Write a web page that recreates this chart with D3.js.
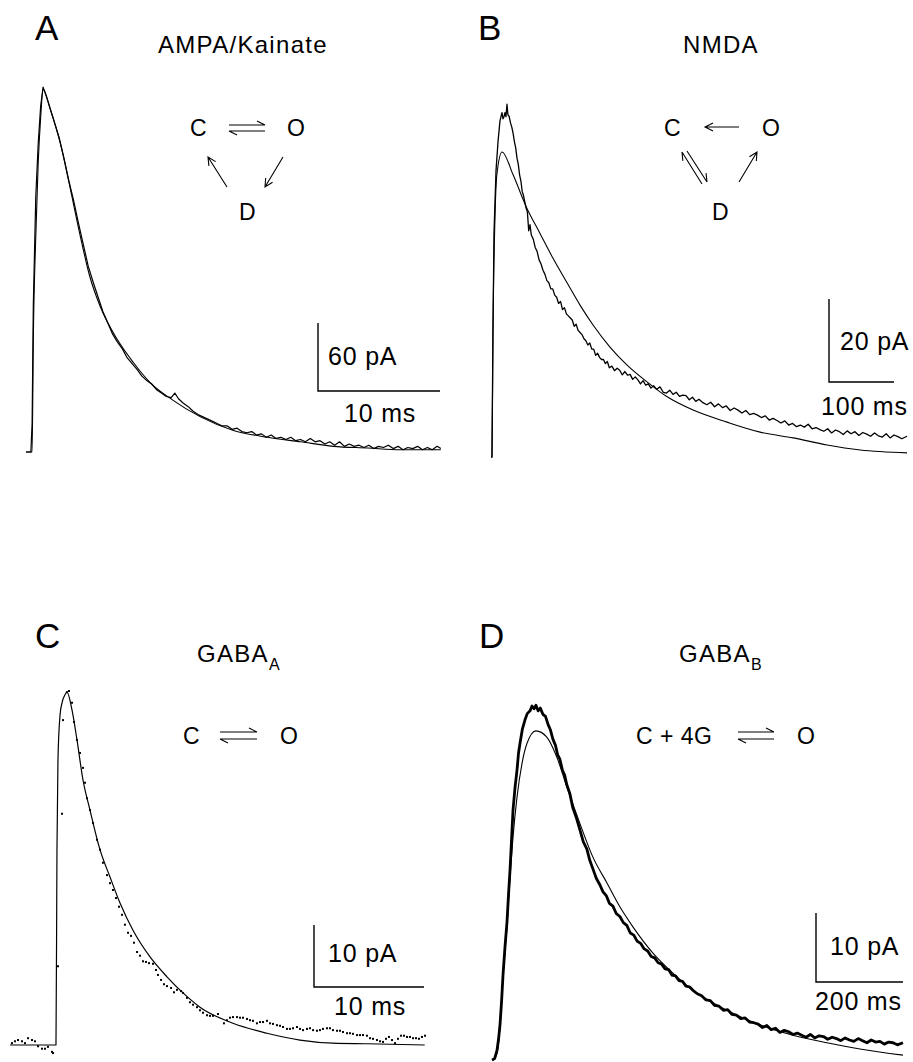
<!DOCTYPE html>
<html>
<head>
<meta charset="utf-8">
<script src="https://cdn.jsdelivr.net/npm/d3@7"></script>
<style>
  body { margin: 0; background: #fff; }
  text { font-family: "Liberation Sans", Arial, sans-serif; fill: #000; }
</style>
</head>
<body>
<svg id="fig"></svg>
<script>
// ---- data (time in ms, current in pA) ----

// A: AMPA/Kainate
var ampaFitT = [0, 0.5, 0.6, 0.8, 1.0, 1.2, 1.4, 2.0, 2.8, 3.6, 4.4, 5.2, 6.1, 7.5, 8.8, 10.2, 12, 14.3, 17, 19.8, 22.5, 25.2, 28, 30.7, 34];
var ampaFitI = [0, 0, 100, 190, 255, 295, 320, 302, 273, 234, 193, 156, 128, 99, 79, 61, 46, 31, 19, 13, 9, 5, 3.5, 2, 2];
var ampaDataT = [0, 0.4, 0.5, 0.6, 0.8, 1.0, 1.2, 1.4, 1.6, 1.9, 2.3, 2.7, 3.1, 3.5, 3.9, 4.3, 4.7, 5.1, 5.5, 5.9, 6.3, 6.7, 7.1, 7.5, 7.9, 8.3, 8.7, 9.1, 9.5, 9.9, 10.3, 10.7, 11.1, 11.5, 11.9, 12.2, 12.5, 12.9, 13.3, 13.7, 14.1, 14.5, 14.9, 15.3, 15.7, 16.1, 16.5, 16.9, 17.3, 17.7, 18.1, 18.5, 18.9, 19.3, 19.7, 20.1, 20.5, 20.9, 21.3, 21.7, 22.1, 22.5, 22.9, 23.3, 23.7, 24.1, 24.5, 24.9, 25.3, 25.7, 26.1, 26.5, 26.9, 27.3, 27.7, 28.1, 28.5, 28.9, 29.3, 29.7, 30.1, 30.5, 30.9, 31.3, 31.7, 32.1, 32.5, 32.9, 33.3, 33.7, 34];
var ampaDataI = [0, 0, 25, 130, 225, 272, 305, 322, 316, 306, 292, 278, 260, 240, 222, 202, 183, 164, 150, 137, 124, 114, 104, 97, 91, 83, 78, 73, 67, 63, 60, 55, 52, 49, 48, 52, 47, 43, 40, 36, 33, 31, 29, 27, 25, 23, 23, 20, 21, 18, 17, 18, 15, 16, 13, 15, 12, 13, 11, 13, 10, 11, 9, 12, 9, 10, 7, 9, 6, 9, 5, 7, 5, 6, 4, 6, 3, 5, 4, 6, 3, 5, 2, 4, 3, 5, 2, 4, 2, 5, 3];

// B: NMDA
var nmdaFitT = [0, 1.5, 3, 6, 9, 17, 34, 55, 75, 95, 117, 137, 157, 183, 209, 240, 271, 311, 363, 414, 465, 517, 568, 640];
var nmdaFitI = [0, 0, 30, 57, 68, 73.5, 68, 60, 54, 48, 42, 36.6, 31.8, 26.5, 22.2, 18.1, 14.5, 11.3, 8.4, 6.0, 4.6, 2.9, 1.7, 1.0];
var nmdaDataT = [0, 1.5, 3, 4.6, 7.7, 10.8, 13.8, 16.9, 18.5, 20, 21.5, 23, 24.6, 26, 28, 30, 32, 34, 36, 38, 40, 42, 44, 46, 48, 50, 52, 54, 56, 58, 60, 62, 65, 68, 71, 74, 77, 80, 83, 86, 89, 92, 95, 98, 101, 104, 107, 110, 113, 116, 119, 122, 125, 128, 131, 134, 137, 140, 143, 146, 149, 152, 155, 158, 161, 164, 167, 170, 173, 176, 179, 182, 186, 190, 194, 198, 202, 206, 210, 214, 218, 222, 226, 230, 234, 238, 242, 246, 250, 255, 260, 265, 270, 275, 280, 285, 290, 295, 300, 305, 310, 315, 320, 326, 332, 338, 344, 350, 356, 362, 368, 374, 380, 386, 392, 398, 404, 410, 416, 422, 428, 434, 440, 446, 452, 458, 464, 470, 476, 482, 488, 494, 500, 506, 512, 518, 524, 530, 536, 542, 548, 554, 560, 566, 572, 578, 584, 590, 596, 602, 608, 614, 620, 626, 632, 640];
var nmdaDataI = [0, 0, 30, 54, 69, 76, 81, 83, 81.5, 82, 83, 82, 85, 82.5, 82, 80.5, 79.5, 78, 76, 74.5, 72, 70.5, 68, 66.5, 64, 63, 61.5, 60, 59, 54.5, 56, 53.5, 52.5, 50.5, 49.5, 47.5, 46.5, 45, 44, 42.5, 42, 40.5, 40.5, 39, 38.5, 37, 37.5, 35.5, 36, 34.5, 34, 33.5, 33, 31.5, 32, 30.5, 30, 29.5, 28.5, 28, 27, 27.5, 26, 26, 24.5, 25, 24, 23.5, 23.5, 22.5, 23,
  21.5, 21.9, 20.8, 21.4, 20.9, 19.8, 20.6, 19.7, 19.9, 18.7, 19.3, 18.6, 17.6, 18.4, 17.3, 17.6, 16.6, 17.2,
  16.3, 16.9, 15.6, 15.4, 16.1, 15.1, 15.6, 14.6, 14.9, 14.8, 13.8, 14.4, 13.4, 13.9,
  13.1, 12.6, 13.2, 12.1, 12.8, 11.9, 12.3, 11.2, 11.8, 11.3, 10.6, 11.2, 10.2, 10.5, 10.1, 9.5, 9.9, 8.9, 9.3, 8.8,
  8.2, 8.7, 7.7, 8.1, 7.3, 7.7, 7.2, 7.9, 6.8, 7.1, 6.6, 6.2, 6.8, 5.8, 6.5, 6.1, 5.4, 6.3, 5.6, 6.1,
  5.2, 5.9, 5.5, 5.0, 5.8, 5.1, 4.8, 5.6, 4.6, 5.3, 4.9, 4.4, 5.0];

// C: GABA_A
var gabaAFitT = [0, 4.09, 4.18, 4.27, 4.36, 4.55, 4.73, 5.0, 5.18, 5.64, 6.09, 6.64, 7.27, 8.18, 9.09, 10.0, 11.18, 12.73, 14.27, 15.73, 17.27, 20.27, 23.36, 26.36, 29.36, 32.45, 37.7];
var gabaAFitI = [0, 0, 0, 31.5, 46, 53.2, 55.2, 56.5, 56.9, 54, 49.2, 42.7, 37.9, 31.5, 27.1, 22.9, 18.5, 14.2, 11, 8.4, 6.1, 3.5, 1.9, 0.8, 0.3, 0.2, 0];
var gabaADotT = [0.18, 0.45, 0.73, 1.09, 1.36, 1.64, 2, 2.27, 2.55, 2.91, 3.18, 3.45, 3.82, 3.91, 4.36, 4.73, 4.82, 5.18, 5.36, 5.64, 5.82, 6.09, 6.36, 6.64, 6.82, 7, 7.27, 7.55, 7.91, 8.18, 8.45, 8.82, 9.09, 9.36, 9.64, 9.91, 10.18, 10.45, 10.73, 11, 11.27, 11.55, 11.82, 12.09, 12.36, 12.64, 13, 13.27, 13.45, 13.73, 14, 14.27, 14.64, 14.91, 15.18, 15.55, 15.73, 16.09, 16.36, 16.64, 17, 17.27, 17.55, 17.91, 18.18, 18.45, 18.91, 19.45, 19.73, 20, 20.27, 20.64, 20.91, 21.18, 21.55, 21.82, 22.09, 22.45, 22.73, 23, 23.36, 23.64, 23.91, 24.27, 24.55, 24.82, 25.18, 25.45, 25.73, 26.09, 26.36, 26.64, 27, 27.27, 27.55, 27.91, 28.18, 28.45, 28.82, 29.09, 29.36, 29.73, 30, 30.27, 30.64, 30.91, 31.18, 31.55, 31.82, 32.09, 32.45, 32.73, 33, 33.36, 33.64, 33.91, 34.18, 34.45, 34.73, 35, 35.27, 35.55, 35.82, 36.09, 36.36, 36.64, 36.91, 37.18, 37.45, 37.73];
var gabaADotI = [0.3, 0.6, 0.8, 0.6, 0.3, 1.1, 0.8, 0.6, -0.2, -0.6, -0.6, -0.3, -1.1, -1.3, 12.7, 37.3, 52.4, 56.9, 57.1, 55.2, 52.1, 49.2, 47.1, 44.7, 42.3, 39.8, 37.9, 35.8, 33.1, 31.5, 29.4, 27.4, 26.1, 25, 23.7, 22.3, 21, 19.4, 18.1, 17.6, 16.5, 15, 14.4, 13.5, 13.4, 13.2, 13.1, 12.1, 11.3, 10.5, 9.8, 9.5, 9.2, 8.5, 8.9, 8.7, 8.4, 7.6, 6.9, 6.5, 6.1, 5.6, 5.2, 4.8, 4.7, 4.7, 5, 3.5, 4, 4.4, 4.5, 4.5, 4.4, 4.4, 4.2, 4, 3.9, 3.5, 3.7, 3.7, 3.9, 3.5, 3.4, 3.2, 3.1, 2.9, 2.6, 2.6, 2.7, 2.9, 2.6, 2.4, 2.6, 2.7, 2.4, 2.3, 2.4, 2.6, 2.7, 2.7, 2.4, 2.3, 2.3, 2.1, 1.9, 1.9, 1.8, 1.6, 1.6, 1.6, 1.5, 1.1, 1, 0.8, 0.6, 0.5, 1, 1.3, 0.8, 0.3, 1, 1.5, 1.5, 1.3, 1.3, 1.1, 1.1, 1, 1.3, 1.5];

// D: GABA_B
var gabaBFitT = [0, 2.3, 11.5, 18.4, 25.3, 34.5, 41.4, 48.3, 57.5, 69, 80.5, 101, 126, 149, 172, 202, 232, 264, 294, 324, 370, 416, 462, 540, 616, 692, 770, 846, 945];
var gabaBFitI = [0, 0, 1, 4.8, 12, 19.3, 26.5, 32.3, 38.1, 43, 45.9, 47.7, 46.8, 43.9, 39.6, 34.3, 29.4, 25.7, 22.2, 19.3, 15.5, 12.6, 10.1, 7.2, 5.1, 3.6, 2.5, 1.6, 0.7];
var gabaBDataT = [0, 6, 11.5, 15, 18.4, 22, 25.3, 30, 34.5, 38, 41.4, 45, 48.3, 53, 57.5, 61, 64.4, 70, 75.9, 81, 87.4, 92, 96.6, 101, 106, 111, 117, 123, 129, 134, 140, 146, 151, 156, 162, 167, 172, 179, 186, 194, 202, 210, 218, 225, 232, 240, 248, 255, 263, 270, 278, 286, 294, 302, 310, 318, 326, 334, 342, 350, 358, 366, 374, 382, 390, 398, 406, 414, 422, 430, 438, 446, 454, 462, 472, 482, 492, 502, 512, 522, 532, 542, 552, 562, 572, 582, 592, 602, 612, 622, 632, 642, 652, 662, 672, 682, 692, 702, 712, 722, 732, 742, 752, 762, 772, 782, 792, 802, 812, 822, 832, 842, 852, 862, 872, 882, 892, 902, 912, 922, 932, 945];
var gabaBDataI = [0, 0.2, 1.4, 3, 5.1, 8.5, 12.3, 16.5, 20, 24, 27.5, 32, 36.2, 39.5, 42, 44.5, 45.9, 48, 49.3, 50.2, 50.6, 51.3, 50.9, 51.4, 50.6, 51, 50.1, 49.8, 48.6, 47.9, 46.5, 45.6, 44.2, 43.6, 42, 41.3, 39.9, 38.6, 36.5, 35.1, 33.4, 31.6, 30.6, 28.9, 27.7, 26.3, 25.4, 24.4, 23.8, 22.7, 22.3, 21.2, 20.8, 19.9, 19.5, 18.4, 18.1, 17.2, 16.9, 16.1, 15.8, 15, 14.8, 14.1, 13.9, 13.2, 13.1, 12.3, 12.2, 11.5, 11.4, 10.7, 10.6,
  10.1, 9.6, 9.3, 8.7, 8.6, 7.9, 7.8, 7.2, 7.3, 6.6, 6.5, 6.0, 6.1, 5.5, 5.4, 5.2, 4.7, 5.0, 4.4, 4.6, 4.0, 4.3, 4.1, 3.7, 3.9, 3.6, 3.3, 3.7, 3.2, 3.5, 3.4, 3.0, 3.3, 3.1, 2.8, 3.2, 2.9, 2.7, 3.1, 2.8, 2.5, 2.9, 2.6, 2.7, 2.3, 2.6, 2.5, 2.2, 2.5];

var panelLetters = ["A", "B", "C", "D"];
var panelTitles = ["AMPA/Kainate", "NMDA", "GABA", "GABA"];
var titleSubs = ["", "", "A", "B"];
var scaleBarT = [10, 100, 10, 200];      // ms
var scaleBarI = [60, 20, 10, 10];        // pA

// ---- drawing ----
var svg = d3.select("#fig").attr("width", 913).attr("height", 1062);
svg.append("rect").attr("width", 913).attr("height", 1062).attr("fill", "#fff");

function zip(ts, vs) { return ts.map(function (t, i) { return [t, vs[i]]; }); }

function trace(x, y, ts, vs, w, curve) {
  svg.append("path")
    .datum(zip(ts, vs))
    .attr("d", d3.line().x(function (d) { return x(d[0]); }).y(function (d) { return y(d[1]); }).curve(curve || d3.curveLinear))
    .attr("fill", "none")
    .attr("stroke", "#000")
    .attr("stroke-width", w)
    .attr("stroke-linejoin", "round");
}

function scaleBar(x, y, cx, cy, tLen, iLen) {
  var dx = x(tLen) - x(0), dy = y(0) - y(iLen);
  svg.append("path")
    .attr("d", "M" + cx + "," + (cy - dy) + "V" + cy + "H" + (cx + dx))
    .attr("fill", "none").attr("stroke", "#000").attr("stroke-width", 1.4);
}

function label(txt, x, y, size) {
  return svg.append("text").attr("x", x).attr("y", y).attr("font-size", size).text(txt);
}

// arrow with open head at (x2,y2); head: "full" or "half" (harpoon)
function arrow(x1, y1, x2, y2, head) {
  var len = Math.hypot(x2 - x1, y2 - y1), ux = (x2 - x1) / len, uy = (y2 - y1) / len;
  var nx = uy, ny = -ux, hl = 8, hw = 4;
  var d = "M" + x1 + "," + y1 + "L" + x2 + "," + y2;
  d += "M" + (x2 - ux * hl + nx * hw) + "," + (y2 - uy * hl + ny * hw) + "L" + x2 + "," + y2;
  if (head === "full") d += "L" + (x2 - ux * hl - nx * hw) + "," + (y2 - uy * hl - ny * hw);
  svg.append("path").attr("d", d).attr("fill", "none").attr("stroke", "#000").attr("stroke-width", 1.1);
}
function equilibrium(x1, x2, yTop, yBot) {
  arrow(x1, yTop, x2, yTop, "half");
  arrow(x2, yBot, x1, yBot, "half");
}

// panel A
var xA = d3.scaleLinear().domain([0, 34]).range([26, 440.8]);
var yA = d3.scaleLinear().domain([0, 320]).range([452, 89.4]);
trace(xA, yA, ampaDataT, ampaDataI, 1.2);
trace(xA, yA, ampaFitT, ampaFitI, 1.1, d3.curveMonotoneX);
scaleBar(xA, yA, 318, 391, scaleBarT[0], scaleBarI[0]);

// panel B
var xB = d3.scaleLinear().domain([0, 640]).range([491, 907]);
var yB = d3.scaleLinear().domain([0, 80]).range([457, 125]);
trace(xB, yB, nmdaFitT, nmdaFitI, 1.1, d3.curveMonotoneX);
trace(xB, yB, nmdaDataT, nmdaDataI, 1.3);
scaleBar(xB, yB, 829, 382, scaleBarT[1], scaleBarI[1]);

// panel C
var xC = d3.scaleLinear().domain([0, 37.7]).range([10, 424.7]);
var yC = d3.scaleLinear().domain([0, 57]).range([1045, 691.6]);
trace(xC, yC, gabaAFitT, gabaAFitI, 1.2, d3.curveMonotoneX);
svg.append("g").selectAll("rect")
  .data(zip(gabaADotT, gabaADotI))
  .enter().append("rect")
  .attr("x", function (d) { return xC(d[0]) - 1; })
  .attr("y", function (d) { return yC(d[1]) - 1; })
  .attr("width", 2).attr("height", 2)
  .attr("fill", "#000");
scaleBar(xC, yC, 314, 987, scaleBarT[2], scaleBarI[2]);

// panel D
var xD = d3.scaleLinear().domain([0, 945]).range([492, 903]);
var yD = d3.scaleLinear().domain([0, 50]).range([1060, 715]);
trace(xD, yD, gabaBDataT, gabaBDataI, 2.8);
trace(xD, yD, gabaBFitT, gabaBFitI, 1.1, d3.curveMonotoneX);
scaleBar(xD, yD, 816, 982, scaleBarT[3], scaleBarI[3]);

// panel letters
var letterPos = [[35, 40], [478, 40], [35, 648], [479, 648]];
panelLetters.forEach(function (l, i) { label(l, letterPos[i][0], letterPos[i][1], 35); });

// titles
var titlePos = [[158, 53], [683, 53], [197, 662], [679, 662]];
panelTitles.forEach(function (t, i) {
  var el = label(t, titlePos[i][0], titlePos[i][1], 24).attr("letter-spacing", 1.3);
  if (titleSubs[i]) el.append("tspan").attr("font-size", 16).attr("dy", 8).attr("dx", 0).text(titleSubs[i]);
});

// scale bar labels
var barLabelPos = [[[328, 365], [344, 422]], [[840, 350], [821, 415]], [[328, 962], [334, 1015]], [[830, 955], [815, 1010]]];
barLabelPos.forEach(function (p, i) {
  label(scaleBarI[i] + " pA", p[0][0], p[0][1], 25).attr("letter-spacing", 0.8);
  label(scaleBarT[i] + " ms", p[1][0], p[1][1], 25).attr("letter-spacing", 0.8);
});

// kinetic schemes
label("C", 190, 136, 23); label("O", 287, 136, 23); label("D", 239, 220, 23);
equilibrium(229, 265, 125, 131);
arrow(227, 187, 208, 157, "full");
arrow(283, 157, 265, 187, "full");

label("C", 664, 136, 23); label("O", 762, 136, 23); label("D", 712, 220, 23);
arrow(739, 127, 705, 127, "full");
arrow(702, 184, 682, 152, "half");
arrow(687, 151, 707, 182, "half");
arrow(739, 182, 757, 152, "full");

label("C", 183, 744, 23); label("O", 280, 744, 23);
equilibrium(220, 257, 732, 739);

label("C + 4G", 636, 744, 23).attr("letter-spacing", 0.5); label("O", 797, 744, 23);
equilibrium(738, 774, 732, 739);
</script>
</body>
</html>
